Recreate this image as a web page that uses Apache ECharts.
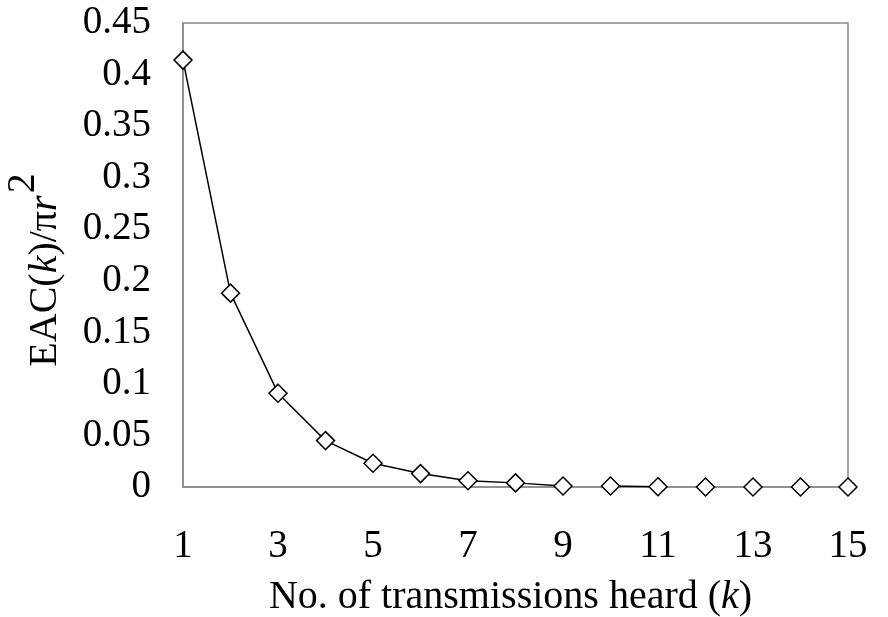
<!DOCTYPE html>
<html>
<head>
<meta charset="utf-8">
<script src="https://cdn.jsdelivr.net/npm/echarts@6/dist/echarts.min.js"></script>
<style>html,body{margin:0;padding:0;background:#fff}#c{width:888px;height:617px}</style>
</head>
<body>
<div id="c"></div>
<script>
const categories = ['1','2','3','4','5','6','7','8','9','10','11','12','13','14','15'];
const eacValues = [0.414, 0.188, 0.091, 0.045, 0.023, 0.013, 0.006, 0.004, 0.001, 0.001, 0.0002, 0, 0, 0, 0];
// line drawn in two pieces in the original (k=1..9, then k=10..11)
const lineSegments = [[0, 8], [9, 10]];
const yTicks = {min: 0, max: 0.45, interval: 0.05};

const font = '"Liberation Serif", "Times New Roman", serif';
const chart = echarts.init(document.getElementById('c'), null, {renderer: 'canvas'});

const lineSeries = lineSegments.map(([a, b]) => ({
  type: 'line',
  data: eacValues.map((v, i) => (i >= a && i <= b ? v : null)),
  showSymbol: false,
  symbol: 'none',
  lineStyle: {color: '#000', width: 1.5},
  z: 3,
  silent: true
}));

chart.setOption({
  animation: false,
  backgroundColor: '#fff',
  grid: {left: 183, right: 40, top: 23, bottom: 130, show: true, borderColor: '#8a8a8a', borderWidth: 1.5,
    containLabel: false, outerBoundsMode: 'none'},
  xAxis: {
    type: 'category',
    data: categories,
    boundaryGap: false,
    axisLine: {lineStyle: {color: '#8a8a8a', width: 1.5}},
    axisTick: {show: false},
    axisLabel: {interval: 1, color: '#000', fontFamily: font, fontSize: 39, margin: 40},
    splitLine: {show: false},
    name: '{n|No. of transmissions heard (}{i|k}{n|)}',
    nameLocation: 'middle',
    nameGap: 90,
    nameTextStyle: {
      padding: [0, 10, 0, 0],
      rich: {
        n: {fontFamily: font, fontSize: 40, color: '#000'},
        i: {fontFamily: font, fontSize: 40, color: '#000', fontStyle: 'italic'}
      }
    }
  },
  yAxis: {
    type: 'value',
    min: yTicks.min, max: yTicks.max, interval: yTicks.interval,
    axisLine: {show: true, lineStyle: {color: '#8a8a8a', width: 1.5}},
    axisTick: {show: false},
    splitLine: {show: false},
    axisLabel: {color: '#000', fontFamily: font, fontSize: 39, margin: 32,
      formatter: v => String(+v.toFixed(2))},
    name: '{n|EAC(}{i|k}{n|)/π}{i|r}{s|2}',
    nameLocation: 'middle',
    nameRotate: 90,
    nameGap: 118,
    nameTextStyle: {
      padding: [0, 30, 0, 0],
      rich: {
        n: {fontFamily: font, fontSize: 40, color: '#000', verticalAlign: 'bottom', lineHeight: 62},
        i: {fontFamily: font, fontSize: 40, color: '#000', fontStyle: 'italic', verticalAlign: 'bottom', lineHeight: 62},
        s: {fontFamily: font, fontSize: 40, color: '#000', verticalAlign: 'top', lineHeight: 32, padding: [0, 0, 0, 2]}
      }
    }
  },
  series: [
    ...lineSeries,
    {
      type: 'line',
      data: eacValues,
      lineStyle: {opacity: 0, width: 0},
      symbol: 'diamond',
      symbolSize: 18,
      showAllSymbol: true,
      itemStyle: {color: '#fff', borderColor: '#000', borderWidth: 1.5},
      z: 4
    }
  ]
});
</script>
</body>
</html>
